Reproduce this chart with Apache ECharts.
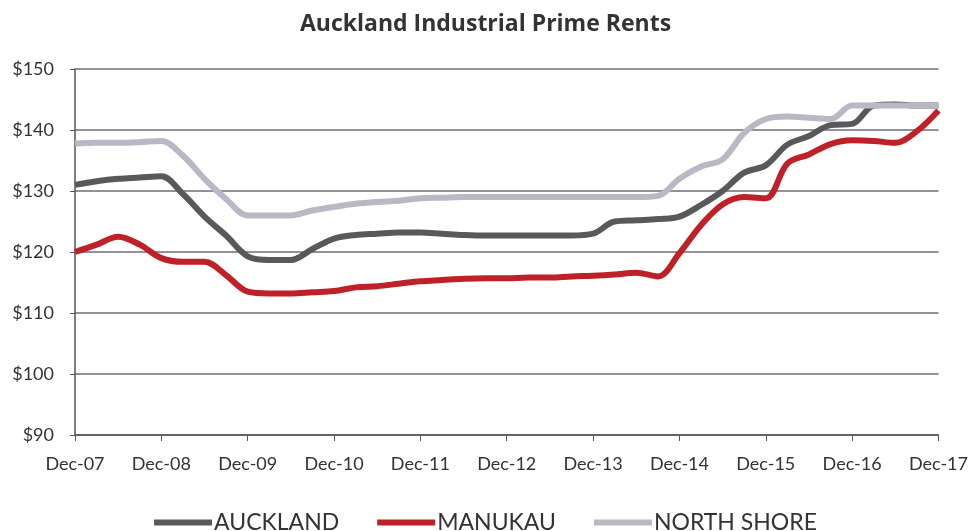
<!DOCTYPE html>
<html><head><meta charset="utf-8">
<script src="https://cdn.jsdelivr.net/npm/echarts@6/dist/echarts.min.js"></script>
<style>html,body{margin:0;padding:0;background:#fff}#c{width:971px;height:531px}</style>
</head><body><div id="c"></div>
<script>
const categories = [
 "Dec-07","Mar-08","Jun-08","Sep-08","Dec-08","Mar-09","Jun-09","Sep-09","Dec-09","Mar-10","Jun-10","Sep-10",
 "Dec-10","Mar-11","Jun-11","Sep-11","Dec-11","Mar-12","Jun-12","Sep-12","Dec-12","Mar-13","Jun-13","Sep-13",
 "Dec-13","Mar-14","Jun-14","Sep-14","Dec-14","Mar-15","Jun-15","Sep-15","Dec-15","Mar-16","Jun-16","Sep-16",
 "Dec-16","Mar-17","Jun-17","Sep-17","Dec-17"];
const auckland = [131,131.6,132,132.2,132.4,129.5,125.8,122.7,119.3,118.7,118.7,120.5,
 122.2,122.8,123,123.2,123.2,123,122.8,122.7,122.7,122.7,122.7,122.7,
 123,125,125.2,125.4,125.8,127.7,130,133,134.2,137.6,139,140.8,
 141,144,144.2,144,144];
const manukau = [120,121.2,122.5,121.2,119,118.4,118.4,116.2,113.5,113.2,113.2,113.4,
 113.6,114.2,114.4,114.8,115.2,115.4,115.6,115.7,115.7,115.8,115.8,116,
 116.1,116.3,116.6,116,119.8,124.4,127.8,129,128.8,134.5,136,137.7,
 138.3,138.2,137.9,139.8,143.2];
const northShore = [137.8,137.9,137.9,138,138.2,135.8,132,128.7,126,126,126,126.8,
 127.4,127.9,128.2,128.4,128.8,128.9,129,129,129,129,129,129,
 129,129,129,129.2,132,134,135.2,139.5,141.8,142.2,142,141.8,
 144,144,144,144,144];
const yTicks = {min:90, max:150, interval:10};

const chart = echarts.init(document.getElementById('c'));
const font = 'Lato, "Open Sans", sans-serif';
function line(name, data, color){
  return {name, type:'line', data, smooth:0.35, symbol:'none',
    lineStyle:{color, width:6}, itemStyle:{color}};
}
chart.setOption({
  animation:false,
  title:{text:'Auckland Industrial Prime Rents', left:'center', top:8,
    textStyle:{fontFamily:'"Open Sans", sans-serif', fontSize:23, fontWeight:'bold', color:'#333'}},
  legend:{top:506, left:'center', itemWidth:58, itemHeight:6, itemGap:38, icon:'rect',
    textStyle:{fontFamily:font, fontSize:23, color:'#333', padding:[0,0,0,-3]},
    data:['AUCKLAND','MANUKAU','NORTH SHORE']},
  grid:{left:75, right:31, top:69, bottom:96},
  xAxis:{type:'category', data:categories, boundaryGap:false,
    axisLine:{lineStyle:{color:'#555', width:1.5}},
    axisTick:{interval:3, length:6, lineStyle:{color:'#555'}},
    axisLabel:{interval:3, margin:20, fontFamily:font, fontSize:18, color:'#333'}},
  yAxis:{type:'value', min:yTicks.min, max:yTicks.max, interval:yTicks.interval,
    axisLine:{show:true, lineStyle:{color:'#555', width:1.5}},
    axisTick:{show:true, length:5, lineStyle:{color:'#555'}},
    axisLabel:{formatter:'${value}', margin:21, fontFamily:font, fontSize:18, color:'#333'},
    splitLine:{lineStyle:{color:'#6e6e7a', width:1.5}}},
  series:[
    line('AUCKLAND', auckland, '#58595b'),
    line('MANUKAU', manukau, '#be2127'),
    line('NORTH SHORE', northShore, '#b9b9c5')
  ]
});
</script></body></html>
